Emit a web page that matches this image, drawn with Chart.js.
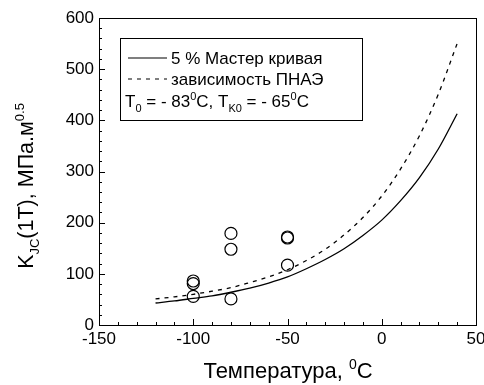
<!DOCTYPE html>
<html>
<head>
<meta charset="utf-8">
<script src="https://cdn.jsdelivr.net/npm/chart.js@4.4.1/dist/chart.umd.min.js"></script>
<style>
html,body{margin:0;padding:0;background:#fff;}
#wrap{width:484px;height:385px;position:relative;}
</style>
</head>
<body>
<div id="wrap"><canvas id="c" width="484" height="385"></canvas></div>
<script>
// ---- data ----
const curveT = [-120,-110,-100,-90,-80,-70,-60,-50,-40,-30,-20,-10,0,10,20,30,40];
const masterCurve5 = [43,47,52,57,64,72,82,94,110,128,149,175,205,243,288,344,413];
const pnaeCurve = [51,55,60,66,73,83,94,108,126,148,176,210,252,305,370,451,550];
const testT = [-100,-100,-100,-80,-80,-80,-50,-50,-50];
const testK = [86,81,56,179,148,51,172,170,117];
const xTicks = [-150,-100,-50,0,50];
const yTicks = [0,100,200,300,400,500,600];
const legendLabels = ["5 % Мастер кривая", "зависимость ПНАЭ"];

const FONT = "'Liberation Sans', Arial, sans-serif";

function toXY(xs, ys){ return xs.map((x,i)=>({x:x, y:ys[i]})); }

function drawRich(ctx, segs, x, y, size, align){
  const small = Math.round(size*0.62);
  let w = 0;
  const parts = segs.map(s=>{
    const fs = s[1]==='n' ? size : small;
    ctx.font = fs+"px "+FONT;
    const tw = ctx.measureText(s[0]).width;
    w += tw;
    return {t:s[0], k:s[1], fs:fs, w:tw};
  });
  let cx = align==='center' ? x - w/2 : x;
  ctx.textAlign = 'left';
  ctx.textBaseline = 'alphabetic';
  parts.forEach(p=>{
    ctx.font = p.fs+"px "+FONT;
    let dy = 0;
    if (p.k==='sub') dy = size*0.28;
    if (p.k==='sup') dy = -size*0.42;
    ctx.fillText(p.t, cx, y+dy);
    cx += p.w;
  });
}

const decorPlugin = {
  id:'decor',
  afterDatasetsDraw(chart){
    const ctx = chart.ctx;
    const a = chart.chartArea;
    const xs = chart.scales.x, ys = chart.scales.y;
    ctx.save();
    ctx.strokeStyle = '#000';
    ctx.fillStyle = '#000';
    ctx.lineWidth = 1;
    ctx.strokeRect(Math.round(a.left)+0.5, Math.round(a.top)+0.5, Math.round(a.right-a.left), Math.round(a.bottom-a.top));
    for (let v=xs.min; v<=xs.max; v+=10){
      const px = Math.round(xs.getPixelForValue(v))+0.5;
      const major = (v % 50 === 0);
      ctx.beginPath();
      ctx.moveTo(px, a.bottom);
      ctx.lineTo(px, a.bottom - (major?6:3));
      ctx.stroke();
    }
    for (let v=ys.min; v<=ys.max; v+=20){
      const py = Math.round(ys.getPixelForValue(v))+0.5;
      const major = (v % 100 === 0);
      ctx.beginPath();
      ctx.moveTo(a.left, py);
      ctx.lineTo(a.left + (major?6:3), py);
      ctx.stroke();
    }
    // legend box
    const bx=120.5, by=38.5, bw=242, bh=82;
    ctx.fillStyle='#fff';
    ctx.fillRect(bx,by,bw,bh);
    ctx.strokeRect(bx,by,bw,bh);
    ctx.fillStyle='#000';
    ctx.lineWidth = 1.2;
    ctx.beginPath(); ctx.moveTo(128,58); ctx.lineTo(167,58); ctx.stroke();
    ctx.setLineDash([4,5]);
    ctx.beginPath(); ctx.moveTo(128,79); ctx.lineTo(167,79); ctx.stroke();
    ctx.setLineDash([]);
    ctx.font = "17px "+FONT;
    ctx.textAlign='left'; ctx.textBaseline='alphabetic';
    ctx.fillText(legendLabels[0], 171, 64);
    ctx.fillText(legendLabels[1], 171, 85);
    drawRich(ctx, [["T",'n'],["0",'sub'],[" = - 83",'n'],["0",'sup'],["C, T",'n'],["K0",'sub'],[" = - 65",'n'],["0",'sup'],["C",'n']], 125, 107, 17, 'left');
    // axis titles
    drawRich(ctx, [["Температура, ",'n'],["0",'sup'],["C",'n']], 288, 378, 22, 'center');
    ctx.translate(33, 186);
    ctx.rotate(-Math.PI/2);
    drawRich(ctx, [["K",'n'],["JC",'sub'],["(1T), МПа.м",'n'],["0.5",'sup']], 0, 0, 21.5, 'center');
    ctx.restore();
  }
};

new Chart(document.getElementById('c'), {
  type:'scatter',
  data:{
    datasets:[
      {label:'master', data: toXY(curveT, masterCurve5), showLine:true, borderColor:'#000', borderWidth:1.3, pointRadius:0, fill:false, cubicInterpolationMode:'monotone'},
      {label:'pnae', data: toXY(curveT, pnaeCurve), showLine:true, borderColor:'#000', borderWidth:1.3, borderDash:[4,5], pointRadius:0, fill:false, cubicInterpolationMode:'monotone'},
      {label:'tests', data: toXY(testT, testK), showLine:false, pointStyle:'circle', pointRadius:6, pointBorderWidth:1.2, borderColor:'#000', backgroundColor:'rgba(0,0,0,0)', pointBackgroundColor:'rgba(0,0,0,0)', pointBorderColor:'#000'}
    ]
  },
  options:{
    responsive:false,
    animation:false,
    devicePixelRatio:1,
    layout:{padding:{left:0,right:8,top:18,bottom:0}},
    plugins:{legend:{display:false}, tooltip:{enabled:false}},
    scales:{
      x:{
        type:'linear', min:-150, max:50,
        afterBuildTicks(s){ s.ticks = xTicks.map(v=>({value:v})); },
        afterFit(s){ s.height = 60; s.paddingLeft = 0; s.paddingRight = 0; },
        grid:{display:false, drawTicks:false},
        border:{display:false},
        ticks:{color:'#000', font:{family:FONT, size:17}, padding:4, maxRotation:0, autoSkip:false}
      },
      y:{
        type:'linear', min:0, max:600,
        afterBuildTicks(s){ s.ticks = yTicks.map(v=>({value:v})); },
        afterFit(s){ s.width = 99; s.paddingTop = 0; s.paddingBottom = 0; },
        grid:{display:false, drawTicks:false},
        border:{display:false},
        ticks:{color:'#000', font:{family:FONT, size:17}, padding:5, autoSkip:false}
      }
    }
  },
  plugins:[decorPlugin]
});
</script>
</body>
</html>
